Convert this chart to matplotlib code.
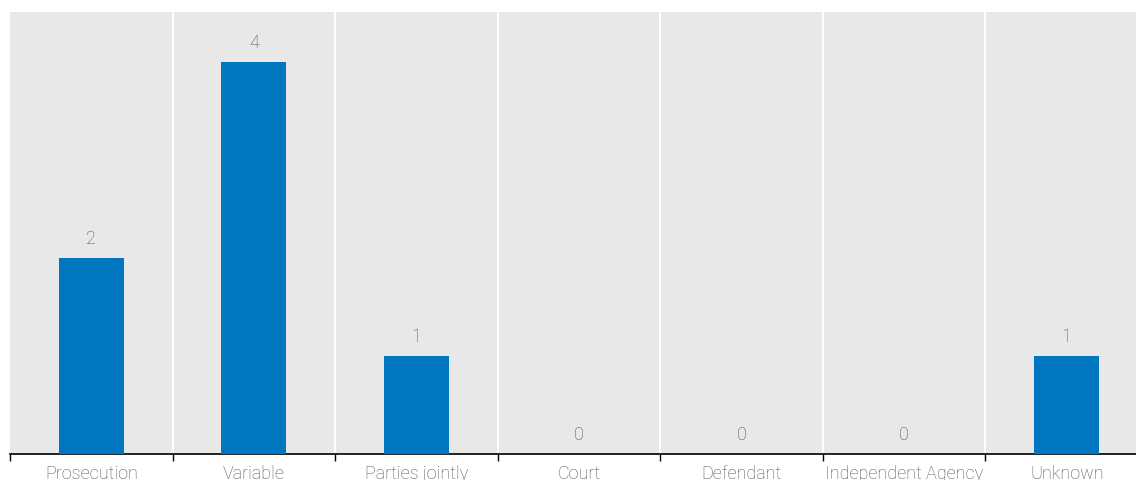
import matplotlib.pyplot as plt
import numpy as np

categories = ["Prosecution", "Variable", "Parties jointly", "Court",
              "Defendant", "Independent Agency", "Unknown"]
values = [2, 4, 1, 0, 0, 0, 1]

plt.rcParams['font.family'] = ['Roboto', 'DejaVu Sans']

fig = plt.figure(figsize=(11.36, 4.81), dpi=100)
# the last band runs past the right edge, as in the reference
ax = fig.add_axes([10 / 1136, 26 / 481, 1138 / 1136, 442 / 481])

ax.set_facecolor('#e8e8e8')
x = np.arange(len(categories))
ax.bar(x, values, width=0.4, color='#0077c0', zorder=3)

for xi, v in zip(x, values):
    ax.text(xi, v + 0.11, str(v), ha='center', va='bottom', fontweight='light',
            fontsize=13, color='#555555', zorder=4)

ax.set_xlim(-0.5, len(categories) - 0.5)
ax.set_ylim(0, 4.51)

# category boundaries
bounds = np.arange(len(categories) + 1) - 0.5
for b in bounds[1:-1]:
    ax.axvline(b, color='white', lw=1.5, zorder=1)

ax.set_xticks(bounds)
ax.set_xticklabels([])
ax.set_xticks(x, minor=True)
ax.set_xticklabels(categories, minor=True, fontsize=13, color='#555555',
                   fontweight='light')
ax.tick_params(axis='x', which='major', length=5, width=1, color='black', direction='out')
ax.tick_params(axis='x', which='minor', length=0, pad=7)
ax.set_yticks([])

for s in ['top', 'right', 'left']:
    ax.spines[s].set_visible(False)
ax.spines['bottom'].set_color('black')
ax.spines['bottom'].set_linewidth(1.2)

fig.savefig('out.png', dpi=100)
